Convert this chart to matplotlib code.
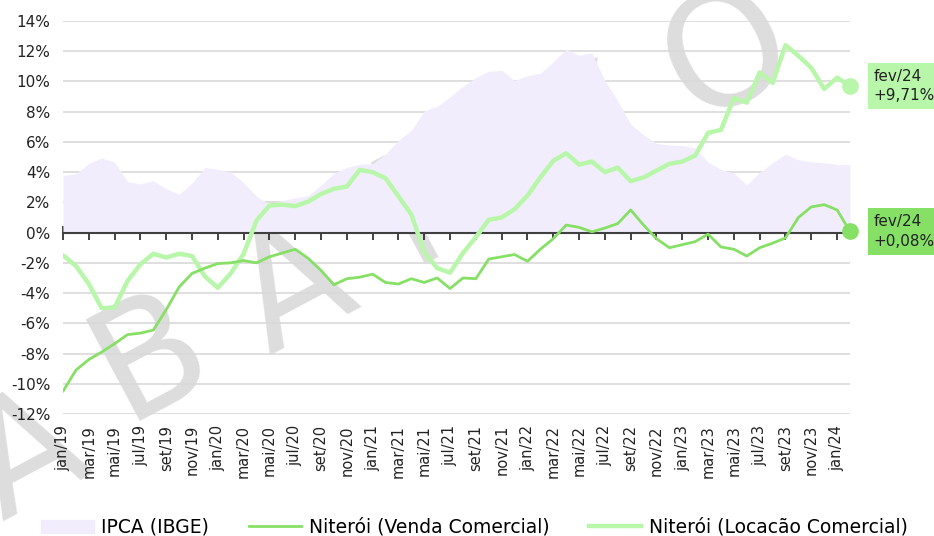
import numpy as np
import matplotlib
matplotlib.use('Agg')
import matplotlib.pyplot as plt
from matplotlib.patches import Patch
from matplotlib.lines import Line2D

# months jan/19 .. fev/24
meses = ['jan', 'fev', 'mar', 'abr', 'mai', 'jun', 'jul', 'ago', 'set', 'out', 'nov', 'dez']
labels = [f'{m}/{a}' for a in range(19, 25) for m in meses][:62]

ipca = [3.78, 3.89, 4.58, 4.94, 4.66, 3.37, 3.22, 3.43, 2.89, 2.54, 3.27, 4.31,
        4.19, 4.01, 3.30, 2.40, 1.88, 2.13, 2.31, 2.44, 3.14, 3.92, 4.31, 4.52,
        4.56, 5.20, 6.10, 6.76, 8.06, 8.35, 8.99, 9.68, 10.25, 10.67, 10.74, 10.06,
        10.38, 10.54, 11.30, 12.13, 11.73, 11.89, 10.07, 8.73, 7.17, 6.47, 5.90, 5.79,
        5.77, 5.60, 4.65, 4.18, 3.94, 3.16, 3.99, 4.61, 5.19, 4.82, 4.68, 4.62,
        4.51, 4.50]

venda = [-10.5, -9.1, -8.4, -7.9, -7.35, -6.75, -6.65, -6.45, -5.1, -3.6, -2.7, -2.35,
         -2.05, -2.0, -1.85, -2.0, -1.6, -1.35, -1.1, -1.7, -2.5, -3.45, -3.05, -2.95,
         -2.75, -3.3, -3.4, -3.05, -3.3, -3.0, -3.7, -3.0, -3.05, -1.75, -1.6, -1.45,
         -1.9, -1.1, -0.4, 0.5, 0.35, 0.05, 0.3, 0.6, 1.5, 0.5, -0.4, -1.0,
         -0.8, -0.6, -0.1, -0.95, -1.1, -1.55, -1.0, -0.7, -0.35, 1.0, 1.7, 1.85,
         1.5, 0.08]

locacao = [-1.5, -2.2, -3.4, -5.0, -4.95, -3.2, -2.1, -1.4, -1.65, -1.4, -1.55, -2.9,
           -3.65, -2.7, -1.4, 0.8, 1.8, 1.85, 1.75, 2.05, 2.55, 2.9, 3.05, 4.15,
           4.0, 3.6, 2.4, 1.2, -1.3, -2.35, -2.65, -1.35, -0.3, 0.85, 1.0, 1.55,
           2.45, 3.65, 4.75, 5.25, 4.5, 4.7, 4.0, 4.3, 3.4, 3.65, 4.1, 4.55,
           4.7, 5.1, 6.6, 6.8, 8.9, 8.6, 10.6, 9.9, 12.4, 11.7, 10.9, 9.5,
           10.25, 9.71]

watermark = ['A', 'B', 'A', 'I', 'X', 'O']

c_ipca = '#f2edfd'
c_venda = '#86e065'
c_loc = '#b8f7aa'

plt.rcParams['font.family'] = ['DejaVu Sans']

x = np.arange(len(labels))

fig = plt.figure(figsize=(9.34, 5.36), dpi=100)
ax = fig.add_axes([63 / 934, 1 - 414 / 536, (850 - 63) / 934, (414 - 21) / 536])

# watermark behind the chart
wm_pos = [(28, 458), (152, 358), (295, 292), (410, 215), (590, 140), (728, 57)]
for ch, (px, py) in zip(watermark, wm_pos):
    fig.text(px / 934, 1 - py / 536, ch, fontsize=112, color='#dddddd',
             rotation=28, ha='center', va='center', zorder=0)
ax.set_zorder(1)
ax.patch.set_alpha(0)

ax.fill_between(x, ipca, 0, color=c_ipca, lw=0, zorder=1)
ax.plot(x, venda, color=c_venda, lw=2.0, zorder=4, solid_capstyle='round')
ax.plot(x, locacao, color=c_loc, lw=3.2, zorder=3, solid_capstyle='round')
ax.plot(x[-1], venda[-1], 'o', color=c_venda, ms=11, zorder=5, clip_on=False)
ax.plot(x[-1], locacao[-1], 'o', color=c_loc, ms=11, zorder=5, clip_on=False)

for serie, cor in [(locacao, c_loc), (venda, c_venda)]:
    ax.annotate(f'{labels[-1]}\n+{serie[-1]:.2f}%'.replace('.', ','),
                xy=(x[-1], serie[-1]), xytext=(17, 0), textcoords='offset points',
                ha='left', va='center', fontsize=11, color='#222222', linespacing=1.35,
                bbox=dict(boxstyle='square,pad=0.4', fc=cor, ec='none'),
                annotation_clip=False)

ax.set_xlim(0, len(labels) - 1)
ax.set_ylim(-12, 14)
ax.set_yticks(range(-12, 15, 2))
ax.set_yticklabels([f'{v}%' for v in range(-12, 15, 2)], fontsize=11, color='#222222')
ax.grid(axis='y', color='#d9d9d9', lw=1.2)
ax.set_axisbelow(True)
ax.tick_params(axis='y', length=0, pad=9)
for s in ax.spines.values():
    s.set_visible(False)

# zero line with crossing ticks
ax.spines['bottom'].set_visible(True)
ax.spines['bottom'].set_position(('data', 0))
ax.spines['bottom'].set_color('#404040')
ax.spines['bottom'].set_linewidth(1.5)
ax.spines['bottom'].set_zorder(2)
ax.set_xticks(x[::2])
ax.tick_params(axis='x', direction='inout', length=10, width=1.2, color='#222222',
               labelbottom=False)

sec = ax.secondary_xaxis(0.0)
sec.set_xticks(x[::2])
sec.set_xticklabels(labels[::2], rotation=90, fontsize=10.5, color='#222222')
sec.tick_params(length=0, pad=8)
sec.spines['bottom'].set_visible(False)

handles = [Patch(color=c_ipca, label='IPCA (IBGE)'),
           Line2D([], [], color=c_venda, lw=2.0, label='Niterói (Venda Comercial)'),
           Line2D([], [], color=c_loc, lw=3.2, label='Niterói (Locacão Comercial)')]
fig.legend(handles=handles, loc='lower center', bbox_to_anchor=(0.508, -0.033), ncol=3,
           frameon=False, fontsize=13.5, handlelength=2.8, columnspacing=2.1,
           handletextpad=0.4)

fig.savefig('out.png', dpi=100)
